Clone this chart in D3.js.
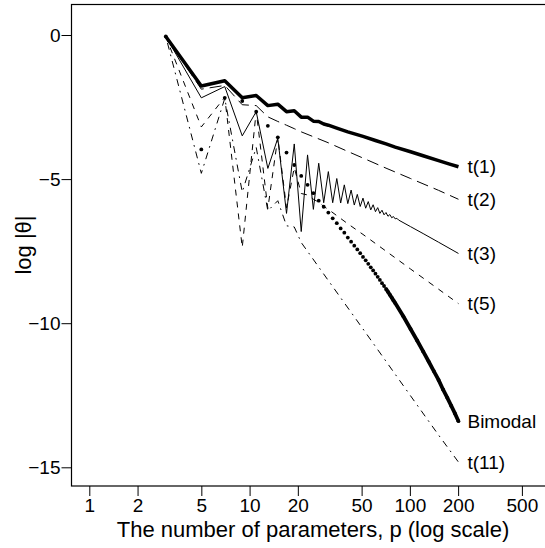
<!DOCTYPE html>
<html>
<head>
<meta charset="utf-8">
<script src="https://cdn.jsdelivr.net/npm/d3@7"></script>
<style>
 body { margin: 0; background: #fff; }
 text { font-family: "Liberation Sans", Arial, Helvetica, sans-serif; fill: #000; }
</style>
</head>
<body>
<svg width="545" height="548"></svg>
<script>
// values: [p, log|theta|]
var t1 = [[3,-0.05],[5,-1.77],[7,-1.59],[9,-2.18],[11,-2.10],[13,-2.45],[15,-2.40],[17,-2.66],[19,-2.63],
 [21,-2.85],[23,-2.85],[25,-2.99],[27,-3.00],[29,-3.09],[31,-3.13],[35,-3.23],[41,-3.36],[51,-3.52],
 [61,-3.66],[71,-3.78],[81,-3.89],[101,-4.05],[121,-4.19],[151,-4.36],[175,-4.47],[201,-4.57]];

var t2 = [[3,-0.05],[5,-1.88],[7,-1.75],[9,-2.42],[11,-2.45],[13,-2.84],[15,-3.00],[17,-3.13],[19,-3.25],
 [21,-3.36],[25,-3.53],[31,-3.74],[41,-4.04],[51,-4.27],[71,-4.62],[101,-4.98],[151,-5.39],[201,-5.70]];

var t3 = [[3,-0.05],[5,-2.18],[7,-1.79],[9,-3.50],[11,-2.66],[13,-4.63],[15,-3.58],[17,-6.19],[19,-3.78],
 [21,-6.82],[23,-4.16],[25,-6.05],[27,-4.45],[29,-5.82],[31,-4.74],[33,-5.82],[35,-4.98],[37,-5.83],
 [39,-5.20],[41,-5.85],[43,-5.38],[45,-5.90],[47,-5.53],[49,-5.95],[51,-5.66],[53,-6.01],[55,-5.78],
 [57,-6.07],[59,-5.89],[61,-6.13],[63,-5.99],[65,-6.19],[67,-6.08],[69,-6.24],[71,-6.16],[73,-6.29],
 [75,-6.23],[77,-6.34],[79,-6.30],[81,-6.38],[83,-6.36],[85,-6.42],[101,-6.65],[121,-6.89],[151,-7.19],
 [201,-7.58]];

var t5 = [[3,-0.05],[5,-3.19],[7,-2.16],[9,-7.37],[11,-2.64],[13,-6.02],[15,-3.55],[17,-6.00],[19,-4.60],
 [21,-5.50],[23,-5.55],[25,-5.70],[27,-5.80],[29,-5.95],[31,-6.05],[41,-6.55],[51,-6.92],[71,-7.50],
 [101,-8.12],[151,-8.82],[201,-9.32]];

var t11 = [[3,-0.05],[5,-4.80],[7,-2.20],[9,-5.45],[11,-3.90],[13,-6.10],[15,-5.75],[17,-6.62],[19,-6.66],
 [21,-7.20],[31,-8.52],[51,-10.20],[101,-12.52],[151,-13.88],[201,-14.82]];

var bimodal = [[3,-0.05],[5,-3.97],[7,-2.18],[9,-2.29],[11,-2.66],[13,-3.15],[15,-3.55],[17,-4.08],[19,-4.51],
 [21,-4.89],[23,-5.20],[25,-5.49],[27,-5.75],[29,-5.96],[31,-6.16],[33,-6.36],[35,-6.53],[37,-6.71],
 [39,-6.86],[41,-7.03],[43,-7.17],[45,-7.31],[47,-7.44],[49,-7.57],[51,-7.70],[53,-7.82],[55,-7.94],
 [57,-8.06],[59,-8.17],[61,-8.28],[63,-8.39],[65,-8.50],[67,-8.61],[69,-8.71],[71,-8.81],[73,-8.91],
 [75,-9.01],[77,-9.11],[79,-9.21],[81,-9.30],[91,-9.76],[101,-10.20],[111,-10.60],[121,-10.98],
 [131,-11.33],[141,-11.66],[151,-11.97],[161,-12.30],[171,-12.58],[181,-12.86],[191,-13.13],[201,-13.40]];

var xTicks = [1, 2, 5, 10, 20, 50, 100, 200, 500];
var yTicks = [0, -5, -10, -15];

var svg = d3.select("svg");

var x = d3.scaleLog().domain([1, 500]).range([89.3, 521.9]);
var y = d3.scaleLinear().domain([0, -15]).range([35, 467.3]);

var line = d3.line()
 .x(function(d) { return x(d[0]); })
 .y(function(d) { return y(d[1]); });

// plot box (right side runs off the picture)
svg.append("rect")
 .attr("x", 71.5).attr("y", 4.5)
 .attr("width", 490).attr("height", 481.5)
 .attr("fill", "none").attr("stroke", "#000").attr("stroke-width", 1.2);

// axes
var xa = svg.append("g")
 .attr("transform", "translate(0,486)")
 .call(d3.axisBottom(x).tickValues(xTicks).tickFormat(d3.format("d")).tickSize(10).tickPadding(3));
xa.select(".domain").remove();
xa.selectAll("text").attr("font-size", 19).attr("font-family", null);

var ya = svg.append("g")
 .attr("transform", "translate(71.5,0)")
 .call(d3.axisLeft(y).tickValues(yTicks).tickSize(10).tickPadding(1));
ya.select(".domain").remove();
ya.selectAll("text").attr("font-size", 19).attr("font-family", null);

svg.append("text")
 .attr("x", 313).attr("y", 537)
 .attr("text-anchor", "middle")
 .attr("font-size", 22)
 .text("The number of parameters, p (log scale)");

svg.append("text")
 .attr("transform", "translate(31,245) rotate(-90)")
 .attr("text-anchor", "middle")
 .attr("font-size", 22)
 .text("log |θ|");

// the curves
var series = [
 { name: "t(1)", data: t1, width: 3.5, dash: null },
 { name: "t(2)", data: t2, width: 1, dash: "12,6" },
 { name: "t(3)", data: t3, width: 1, dash: null },
 { name: "t(5)", data: t5, width: 1, dash: "6,6" },
 { name: "t(11)", data: t11, width: 1, dash: "1.7,5,7,5" }
];

svg.append("g").selectAll("path")
 .data(series)
 .enter().append("path")
 .attr("d", function(d) { return line(d.data); })
 .attr("fill", "none")
 .attr("stroke", "#000")
 .attr("stroke-width", function(d) { return d.width; })
 .attr("stroke-dasharray", function(d) { return d.dash; })
 .attr("stroke-linejoin", "round");

// bimodal is drawn as points; they run together at large p
svg.append("g").selectAll("circle")
 .data(bimodal)
 .enter().append("circle")
 .attr("cx", function(d) { return x(d[0]); })
 .attr("cy", function(d) { return y(d[1]); })
 .attr("r", 1.9)
 .attr("fill", "#000");
svg.append("path")
 .attr("d", line(bimodal.filter(function(d) { return d[0] >= 71; })))
 .attr("fill", "none").attr("stroke", "#000").attr("stroke-width", 3.8);

// labels at the line ends
var labels = series.concat([{ name: "Bimodal", data: bimodal }]);
svg.append("g").selectAll("text")
 .data(labels)
 .enter().append("text")
 .attr("x", function(d) { return x(d.data[d.data.length - 1][0]) + 9; })
 .attr("y", function(d) { return y(d.data[d.data.length - 1][1]); })
 .attr("dy", "0.35em")
 .attr("font-size", 19)
 .text(function(d) { return d.name; });
</script>
</body>
</html>
